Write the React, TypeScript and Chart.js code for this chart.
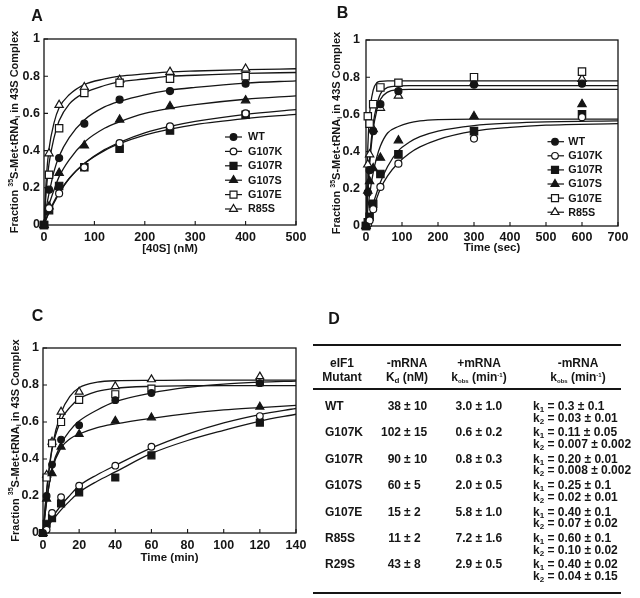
import React, { useEffect, useRef } from 'react';
import { Chart, registerables } from 'chart.js';

Chart.register(...registerables);

const FAMILY = '"Liberation Sans", Arial, Helvetica, sans-serif';
const INK = '#151515';

// ---------- series ----------
const seriesNames = ['WT', 'G107K', 'G107R', 'G107S', 'G107E', 'R85S'];
const markerShapes = ['circle', 'circle', 'rect', 'triangle', 'rect', 'triangle'];
const markerFilled = [true, false, true, true, false, false];

// ---------- Panel A : [40S] (nM) ----------
const aX = [0, 10, 30, 80, 150, 250, 400];
const aWT = [0, 0.19, 0.36, 0.545, 0.674, 0.72, 0.76];
const aG107K = [0, 0.09, 0.17, 0.31, 0.44, 0.53, 0.6];
const aG107R = [0, 0.08, 0.21, 0.31, 0.41, 0.508, 0.593];
const aG107S = [0, 0.1, 0.28, 0.427, 0.566, 0.638, 0.67];
const aG107E = [0, 0.27, 0.52, 0.71, 0.764, 0.787, 0.8];
const aR85S = [0, 0.385, 0.645, 0.74, 0.78, 0.823, 0.84];

const aFitX = [0, 5, 10, 20, 30, 50, 80, 120, 150, 200, 250, 300, 400, 500];
const aFitWT = [0, 0.1, 0.17, 0.29, 0.37, 0.47, 0.565, 0.635, 0.665, 0.7, 0.725, 0.74, 0.763, 0.775];
const aFitG107K = [0, 0.035, 0.067, 0.12, 0.17, 0.25, 0.33, 0.405, 0.444, 0.495, 0.53, 0.557, 0.595, 0.62];
const aFitG107R = [0, 0.037, 0.07, 0.127, 0.175, 0.25, 0.33, 0.4, 0.437, 0.483, 0.515, 0.54, 0.572, 0.595];
const aFitG107S = [0, 0.06, 0.11, 0.19, 0.26, 0.35, 0.445, 0.52, 0.555, 0.6, 0.627, 0.647, 0.676, 0.694];
const aFitG107E = [0, 0.2, 0.33, 0.47, 0.56, 0.65, 0.71, 0.75, 0.77, 0.785, 0.8, 0.805, 0.815, 0.82];
const aFitR85S = [0, 0.27, 0.41, 0.55, 0.63, 0.7, 0.755, 0.785, 0.8, 0.812, 0.823, 0.828, 0.835, 0.84];

// ---------- Panel B : Time (sec) ----------
const bX = [0, 5, 10, 20, 40, 90, 300, 600];
const bWT = [0, 0.18, 0.3, 0.51, 0.655, 0.725, 0.76, 0.765];
const bG107K = [0, 0.01, 0.03, 0.09, 0.21, 0.335, 0.47, 0.585];
const bG107R = [0, 0.02, 0.05, 0.12, 0.28, 0.385, 0.51, 0.6];
const bG107S = [0, 0.19, 0.24, 0.31, 0.367, 0.46, 0.59, 0.655];
const bG107E = [0, 0.59, 0.55, 0.655, 0.745, 0.77, 0.8, 0.83];
const bR85S = [0, 0.33, 0.385, 0.52, 0.635, 0.7, 0.77, 0.79];

const bFitX = [0, 5, 10, 20, 30, 40, 60, 90, 120, 150, 200, 300, 400, 500, 700];
const bFitWT = [0, 0.18, 0.33, 0.52, 0.62, 0.68, 0.72, 0.733, 0.735, 0.735, 0.735, 0.735, 0.735, 0.735, 0.735];
const bFitG107K = [0, 0.01, 0.03, 0.09, 0.15, 0.2, 0.27, 0.34, 0.39, 0.425, 0.465, 0.51, 0.53, 0.542, 0.55];
const bFitG107R = [0, 0.02, 0.05, 0.12, 0.18, 0.235, 0.32, 0.405, 0.45, 0.48, 0.51, 0.54, 0.553, 0.56, 0.565];
const bFitG107S = [0, 0.09, 0.168, 0.287, 0.37, 0.43, 0.5, 0.535, 0.555, 0.565, 0.572, 0.575, 0.575, 0.575, 0.575];
const bFitG107E = [0, 0.42, 0.6, 0.73, 0.77, 0.778, 0.78, 0.78, 0.78, 0.78, 0.78, 0.78, 0.78, 0.78, 0.78];
const bFitR85S = [0, 0.2, 0.36, 0.55, 0.65, 0.71, 0.745, 0.753, 0.755, 0.755, 0.755, 0.755, 0.755, 0.755, 0.755];

// ---------- Panel C : Time (min) ----------
const cX = [0, 2, 5, 10, 20, 40, 60, 120];
const cWT = [0, 0.2, 0.37, 0.505, 0.583, 0.718, 0.757, 0.81];
const cG107K = [0, 0.018, 0.108, 0.194, 0.256, 0.364, 0.466, 0.632];
const cG107R = [0, 0.05, 0.08, 0.16, 0.22, 0.3, 0.42, 0.597];
const cG107S = [0, 0.185, 0.323, 0.466, 0.534, 0.606, 0.624, 0.682];
const cG107E = [0, 0.3, 0.485, 0.6, 0.72, 0.75, 0.78, 0.816];
const cR85S = [0, 0.314, 0.493, 0.655, 0.763, 0.793, 0.83, 0.845];

const cFitX = [0, 2, 5, 10, 15, 20, 30, 40, 60, 80, 100, 120, 140];
const cFitWT = [0, 0.17, 0.35, 0.48, 0.555, 0.605, 0.665, 0.71, 0.757, 0.787, 0.805, 0.815, 0.821];
const cFitG107K = [0, 0.03, 0.08, 0.15, 0.205, 0.255, 0.315, 0.365, 0.46, 0.535, 0.595, 0.64, 0.673];
const cFitG107R = [0, 0.025, 0.065, 0.125, 0.175, 0.22, 0.28, 0.33, 0.43, 0.5, 0.555, 0.605, 0.642];
const cFitG107S = [0, 0.17, 0.34, 0.46, 0.51, 0.535, 0.57, 0.59, 0.62, 0.645, 0.665, 0.678, 0.69];
const cFitG107E = [0, 0.22, 0.45, 0.61, 0.68, 0.725, 0.765, 0.782, 0.793, 0.796, 0.797, 0.797, 0.797];
const cFitR85S = [0, 0.23, 0.46, 0.65, 0.74, 0.785, 0.815, 0.823, 0.825, 0.826, 0.826, 0.826, 0.826];

const yTickValues = [0, 0.2, 0.4, 0.6, 0.8, 1];

// ---------- Table D ----------
const tMutants = ['WT', 'G107K', 'G107R', 'G107S', 'G107E', 'R85S', 'R29S'];
const tKd = ['38 ± 10', '102 ± 15', '90 ± 10', '60 ± 5', '15 ± 2', '11 ± 2', '43 ± 8'];
const tKobsPlus = ['3.0 ± 1.0', '0.6 ± 0.2', '0.8 ± 0.3', '2.0 ± 0.5', '5.8 ± 1.0', '7.2 ± 1.6', '2.9 ± 0.5'];
const tK1 = ['0.3 ± 0.1', '0.11 ± 0.05', '0.20 ± 0.01', '0.25 ± 0.1', '0.40 ± 0.1', '0.60 ± 0.1', '0.40 ± 0.02'];
const tK2 = ['0.03 ± 0.01', '0.007 ± 0.002', '0.008 ± 0.002', '0.02 ± 0.01', '0.07 ± 0.02', '0.10 ± 0.02', '0.04 ± 0.15'];

type PanelCfg = {
  left: number; top: number; w: number; h: number;
  plotLeft: number; plotRight: number; plotTop: number; plotBottom: number;
  xMax: number; xStep: number; xTitle: string; xTitleY: number; xTickPad: number; yTickPad: number;
  yTitleX: number;
  legend: { y0: number; dy: number; l1: number; l2: number; mx: number; tx: number; size: number };
  px: number[]; py: number[][]; fx: number[]; fy: number[][];
  mScale: number;
};

const panelA: PanelCfg = {
  left: 0, top: 0, w: 320, h: 300,
  plotLeft: 44, plotRight: 296, plotTop: 39, plotBottom: 225,
  xMax: 500, xStep: 100, xTitle: '[40S] (nM)', xTitleY: 248.5, xTickPad: 5, yTickPad: 4,
  yTitleX: 15,
  legend: { y0: 137, dy: 14.4, l1: 225, l2: 242, mx: 233.5, tx: 248, size: 10.8 },
  px: aX, py: [aWT, aG107K, aG107R, aG107S, aG107E, aR85S],
  fx: aFitX, fy: [aFitWT, aFitG107K, aFitG107R, aFitG107S, aFitG107E, aFitR85S],
  mScale: 1,
};

const panelB: PanelCfg = {
  left: 320, top: 0, w: 320, h: 300,
  plotLeft: 46, plotRight: 298, plotTop: 40, plotBottom: 226,
  xMax: 700, xStep: 100, xTitle: 'Time (sec)', xTitleY: 248, xTickPad: 4.5, yTickPad: 6,
  yTitleX: 17,
  legend: { y0: 141.7, dy: 14.1, l1: 227.5, l2: 244, mx: 235, tx: 248.3, size: 10.8 },
  px: bX, py: [bWT, bG107K, bG107R, bG107S, bG107E, bR85S],
  fx: bFitX, fy: [bFitWT, bFitG107K, bFitG107R, bFitG107S, bFitG107E, bFitR85S],
  mScale: 1,
};

const panelC: PanelCfg = {
  left: 0, top: 300, w: 320, h: 298,
  plotLeft: 43, plotRight: 296, plotTop: 48, plotBottom: 233,
  xMax: 140, xStep: 20, xTitle: 'Time (min)', xTitleY: 258.3, xTickPad: 5.5, yTickPad: 4,
  yTitleX: 15.5,
  legend: { y0: 151, dy: 13.9, l1: 220.7, l2: 237.3, mx: 229.3, tx: 239, size: 10 },
  px: cX, py: [cWT, cG107K, cG107R, cG107S, cG107E, cR85S],
  fx: cFitX, fy: [cFitWT, cFitG107K, cFitG107R, cFitG107S, cFitG107E, cFitR85S],
  mScale: 0.95,
};

const baseRadius: Record<string, number> = { circle: 3.5, rect: 5.2, triangle: 4.8 };

function drawMarker(ctx: CanvasRenderingContext2D, shape: string, filled: boolean, x: number, y: number, r: number) {
  ctx.beginPath();
  if (shape === 'circle') {
    ctx.arc(x, y, r, 0, Math.PI * 2);
  } else if (shape === 'rect') {
    const s = r * Math.SQRT1_2;
    ctx.rect(x - s, y - s, 2 * s, 2 * s);
  } else {
    for (let k = 0; k < 3; k++) {
      const a = (k * 2 * Math.PI) / 3;
      const px = x + Math.sin(a) * r;
      const py = y - Math.cos(a) * r;
      if (k === 0) ctx.moveTo(px, py);
      else ctx.lineTo(px, py);
    }
    ctx.closePath();
  }
  ctx.fillStyle = filled ? INK : '#ffffff';
  ctx.fill();
  ctx.lineWidth = 1.2;
  ctx.strokeStyle = INK;
  ctx.stroke();
}

function drawYTitle(ctx: CanvasRenderingContext2D, cx: number, cy: number) {
  const segs: [string, string][] = [
    ['Fraction ', 'n'],
    ['35', 'sup'],
    ['S-Met-tRNA', 'n'],
    ['i', 'sub'],
    [' in 43S Complex', 'n'],
  ];
  const big = `bold 11px ${FAMILY}`;
  const small = `bold 7px ${FAMILY}`;
  ctx.save();
  ctx.translate(cx, cy);
  ctx.rotate(-Math.PI / 2);
  let total = 0;
  for (const [t, k] of segs) {
    ctx.font = k === 'n' ? big : small;
    total += ctx.measureText(t).width;
  }
  let x = -total / 2;
  ctx.fillStyle = INK;
  ctx.textBaseline = 'middle';
  ctx.textAlign = 'left';
  for (const [t, k] of segs) {
    ctx.font = k === 'n' ? big : small;
    const dy = k === 'sup' ? -4 : k === 'sub' ? 3.5 : 0;
    ctx.fillText(t, x, dy);
    x += ctx.measureText(t).width;
  }
  ctx.restore();
}

function buildConfig(p: PanelCfg): any {
  const datasets: any[] = [];
  seriesNames.forEach((name, i) => {
    const shape = markerShapes[i];
    const r = baseRadius[shape] * p.mScale;
    datasets.push({
      label: name,
      data: p.px.map((x, j) => ({ x, y: p.py[i][j] })),
      showLine: false,
      pointStyle: shape,
      pointRadius: r,
      pointBackgroundColor: markerFilled[i] ? INK : '#ffffff',
      pointBorderColor: INK,
      pointBorderWidth: 1.2,
      clip: false,
      order: 0,
    });
    datasets.push({
      label: name + ' fit',
      data: p.fx.map((x, j) => ({ x, y: p.fy[i][j] })),
      showLine: true,
      pointRadius: 0,
      borderColor: INK,
      borderWidth: 1.3,
      cubicInterpolationMode: 'monotone',
      fill: false,
      order: 1,
    });
  });

  const decor = {
    id: 'decor' + p.left + '_' + p.top,
    beforeDatasetsDraw(chart: any) {
      const { ctx, chartArea } = chart;
      const xs = chart.scales.x;
      const ys = chart.scales.y;
      ctx.save();
      ctx.strokeStyle = INK;
      ctx.lineWidth = 1.3;
      ctx.strokeRect(chartArea.left, chartArea.top, chartArea.right - chartArea.left, chartArea.bottom - chartArea.top);
      ctx.lineWidth = 1.1;
      ctx.beginPath();
      xs.ticks.forEach((t: any) => {
        const px = xs.getPixelForValue(t.value);
        ctx.moveTo(px, chartArea.bottom);
        ctx.lineTo(px, chartArea.bottom - 4);
      });
      ys.ticks.forEach((t: any) => {
        const py = ys.getPixelForValue(t.value);
        ctx.moveTo(chartArea.left, py);
        ctx.lineTo(chartArea.left + 4, py);
      });
      ctx.stroke();
      ctx.restore();
    },
    afterDraw(chart: any) {
      const { ctx, chartArea } = chart;
      drawYTitle(ctx, p.yTitleX, (chartArea.top + chartArea.bottom) / 2);
      const L = p.legend;
      ctx.save();
      seriesNames.forEach((name, i) => {
        const y = L.y0 - p.top + i * L.dy;
        ctx.beginPath();
        ctx.strokeStyle = INK;
        ctx.lineWidth = 1.2;
        ctx.moveTo(L.l1, y);
        ctx.lineTo(L.l2, y);
        ctx.stroke();
        drawMarker(ctx, markerShapes[i], markerFilled[i], L.mx, y, baseRadius[markerShapes[i]] * p.mScale * 0.95);
        ctx.fillStyle = INK;
        ctx.font = `bold ${L.size}px ${FAMILY}`;
        ctx.textAlign = 'left';
        ctx.textBaseline = 'middle';
        ctx.fillText(name, L.tx, y + 0.5);
      });
      ctx.restore();
    },
  };

  const tickFont = { family: FAMILY, size: 12.5, weight: 'bold' as const };
  const titleLH = 11.5 * 1.2;

  return {
    type: 'scatter',
    data: { datasets },
    options: {
      animation: false,
      responsive: false,
      events: [],
      layout: {
        autoPadding: false,
        padding: { left: 0, top: p.plotTop, right: p.w - p.plotRight, bottom: 0 },
      },
      plugins: { legend: { display: false }, tooltip: { enabled: false } },
      scales: {
        x: {
          type: 'linear',
          min: 0,
          max: p.xMax,
          grid: { display: false, drawTicks: false },
          border: { display: false },
          ticks: { stepSize: p.xStep, font: tickFont, color: INK, padding: p.xTickPad, maxRotation: 0, autoSkip: false },
          title: {
            display: true,
            text: p.xTitle,
            color: INK,
            font: { family: FAMILY, size: 11.5, weight: 'bold' },
            padding: { top: 0, bottom: p.h - p.xTitleY - titleLH / 2 },
          },
          afterFit: (s: any) => { s.height = p.h - p.plotBottom; },
        },
        y: {
          type: 'linear',
          min: 0,
          max: 1,
          grid: { display: false, drawTicks: false },
          border: { display: false },
          afterBuildTicks: (s: any) => { s.ticks = yTickValues.map((v) => ({ value: v })); },
          ticks: {
            font: tickFont,
            color: INK,
            padding: p.yTickPad,
            callback: (v: any) => {
              const n = Number(v);
              if (Math.abs(n) < 1e-9) return '0';
              if (Math.abs(n - 1) < 1e-9) return '1';
              return n.toFixed(1);
            },
          },
          afterFit: (s: any) => { s.width = p.plotLeft; },
        },
      },
    },
    plugins: [decor],
  };
}

function PanelChart({ cfg }: { cfg: PanelCfg }) {
  const ref = useRef<HTMLCanvasElement>(null);
  useEffect(() => {
    const chart = new Chart(ref.current as HTMLCanvasElement, buildConfig(cfg));
    return () => chart.destroy();
  }, [cfg]);
  return (
    <canvas
      ref={ref}
      width={cfg.w}
      height={cfg.h}
      style={{ position: 'absolute', left: cfg.left, top: cfg.top, width: cfg.w, height: cfg.h }}
    />
  );
}

const baseText: React.CSSProperties = {
  position: 'absolute',
  fontFamily: FAMILY,
  fontWeight: 'bold',
  fontSize: 12,
  lineHeight: '14px',
  color: INK,
  whiteSpace: 'nowrap',
};

function Centered({ x, y, children }: { x: number; y: number; children: React.ReactNode }) {
  return <div style={{ ...baseText, left: x, top: y - 7, transform: 'translateX(-50%)' }}>{children}</div>;
}
function LeftText({ x, y, children }: { x: number; y: number; children: React.ReactNode }) {
  return <div style={{ ...baseText, left: x, top: y - 7 }}>{children}</div>;
}
function RightText({ x, y, children }: { x: number; y: number; children: React.ReactNode }) {
  return <div style={{ ...baseText, left: x, top: y - 7, transform: 'translateX(-100%)' }}>{children}</div>;
}

const tinySub: React.CSSProperties = { fontSize: 6, verticalAlign: 'baseline', position: 'relative', top: 2 };
const tinySup: React.CSSProperties = { fontSize: 6, verticalAlign: 'baseline', position: 'relative', top: -4 };
const smallSub: React.CSSProperties = { fontSize: 8, verticalAlign: 'baseline', position: 'relative', top: 2 };

function TableD() {
  const rule = (top: number) => (
    <div style={{ position: 'absolute', left: 313, top, width: 308, height: 2.4, background: INK }} />
  );
  const rowY = (i: number) => 406 + i * 26.4;
  return (
    <>
      {rule(344)}
      {rule(388)}
      {rule(591.5)}
      <Centered x={342} y={362.7}>eIF1</Centered>
      <Centered x={342} y={377.3}>Mutant</Centered>
      <Centered x={407} y={362.7}>-mRNA</Centered>
      <Centered x={407} y={377.3}>
        K<span style={smallSub}>d</span> (nM)
      </Centered>
      <Centered x={479} y={362.7}>+mRNA</Centered>
      <Centered x={479} y={377.3}>
        k<span style={tinySub}>obs</span> (min<span style={tinySup}>-1</span>)
      </Centered>
      <Centered x={578} y={362.7}>-mRNA</Centered>
      <Centered x={578} y={377.3}>
        k<span style={tinySub}>obs</span> (min<span style={tinySup}>-1</span>)
      </Centered>
      {tMutants.map((m, i) => {
        const y = rowY(i);
        const [kdA, kdB] = tKd[i].split(' ± ');
        return (
          <React.Fragment key={m}>
            <LeftText x={325} y={y}>{m}</LeftText>
            <RightText x={401} y={y}>{kdA}</RightText>
            <LeftText x={404} y={y}>{'± ' + kdB}</LeftText>
            <LeftText x={455.5} y={y}>{tKobsPlus[i]}</LeftText>
            <LeftText x={533} y={y}>
              k<span style={smallSub}>1</span> = {tK1[i]}
            </LeftText>
            <LeftText x={533} y={y + 11.5}>
              k<span style={smallSub}>2</span> = {tK2[i]}
            </LeftText>
          </React.Fragment>
        );
      })}
    </>
  );
}

function Letter({ x, y, t }: { x: number; y: number; t: string }) {
  return (
    <div
      style={{
        position: 'absolute',
        left: x,
        top: y,
        transform: 'translate(-50%, -50%)',
        fontFamily: FAMILY,
        fontWeight: 'bold',
        fontSize: 16,
        lineHeight: '16px',
        color: INK,
      }}
    >
      {t}
    </div>
  );
}

export default function App() {
  return (
    <div style={{ position: 'absolute', left: 0, top: 0, width: 640, height: 598, background: '#ffffff', overflow: 'hidden' }}>
      <PanelChart cfg={panelA} />
      <PanelChart cfg={panelB} />
      <PanelChart cfg={panelC} />
      <Letter x={37} y={15.5} t="A" />
      <Letter x={342.5} y={13} t="B" />
      <Letter x={37.5} y={316} t="C" />
      <Letter x={334} y={318.5} t="D" />
      <TableD />
    </div>
  );
}
